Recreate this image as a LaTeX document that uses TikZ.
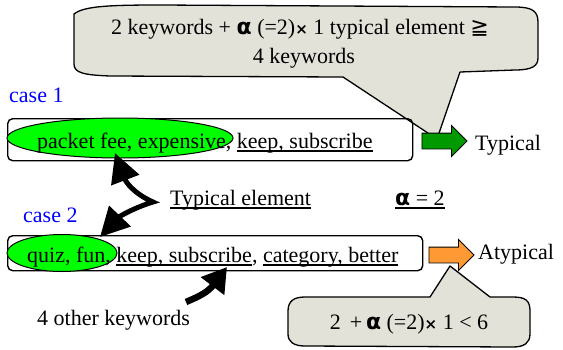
\documentclass[tikz,border=0pt]{standalone}
\usepackage{fontspec}
\setmainfont{Liberation Serif}
\newfontfamily\symfont{DejaVu Sans}
\usetikzlibrary{arrows.meta,shapes.geometric,shapes.arrows}
\definecolor{calloutfill}{RGB}{226,226,216}
\definecolor{kwgreen}{RGB}{0,255,0}
\definecolor{arrgreen}{RGB}{0,153,0}
\definecolor{arrorange}{RGB}{255,153,51}
\newcommand{\alsym}{{\symfont\bfseries α}}
\newcommand{\timessym}{{\symfont\bfseries\fontsize{15}{18}\selectfont ×}}
\newcommand{\geqqsym}{{\symfont ≧}}
% underline with a heavier rule
\newsavebox{\undlbox}
\newcommand{\undl}[1]{\leavevmode\sbox{\undlbox}{#1}%
  \rlap{\rule[-3.5pt]{\wd\undlbox}{1.5pt}}\usebox{\undlbox}}

\begin{document}
\begin{tikzpicture}[x=1pt,y=-1pt,
  every node/.style={font=\fontsize{22}{26}\selectfont, inner sep=0pt},
  kwbox/.style={draw, line width=1.4pt, rounded corners=5pt, anchor=north west},
  kwoval/.style={ellipse, draw, line width=1pt, fill=kwgreen},
  casetxt/.style={anchor=base west, text=blue},
  bigarrow/.style={single arrow, draw, line width=0.9pt, minimum height=45pt,
    minimum width=30pt, inner sep=7.5pt, single arrow head extend=7.5pt},
  callout/.style={draw, line width=1.3pt, fill=calloutfill, line join=round},
  bentarrow/.style={line width=5pt, line join=miter,
    {Triangle[length=29pt,width=29pt]}-{Triangle[length=29pt,width=29pt]}},
  pointarrow/.style={line width=6.5pt, -{Triangle[length=24pt,width=28pt]}}]
\useasboundingbox (0,0) rectangle (563,349);

% top callout
\draw[callout] (74,14) .. controls (84,6) and (110,5) .. (160,5)
  -- (515,7) .. controls (532,7) and (538,11) .. (538,22)
  -- (538,58) .. controls (538,66) and (532,70) .. (515,70)
  -- (460,72) -- (437,139) -- (343,77)
  -- (110,76) .. controls (84,75) and (74,73) .. (74,64) -- cycle;
\node[anchor=base] (top1) at (300,34)
  {2 keywords + \alsym\ (=2)\timessym\ 1 typical element \geqqsym};
\node[anchor=base] (top2) at (304,63) {4 keywords};

% case 1
\node[casetxt] (case1) at (9,102) {case 1};
\node[kwbox, minimum width=405pt, minimum height=42pt] (box1) at (7,118) {};
\node[kwoval, minimum width=226pt, minimum height=40pt] (oval1) at (120,138) {};
\node[anchor=base west] (kw1) at (37,148)
  {packet fee, expensive, \undl{keep, subscribe}};
\node[bigarrow, fill=arrgreen] (garrow) at (440.5,141) {};
\node[anchor=base west] (typ) at (475,150) {Typical};

% typical element label and alpha
\node[anchor=base west] (telem) at (170,205) {\undl{Typical element}};
\node[anchor=base west] (alpha) at (395,205) {\undl{\alsym\ = 2}};

% case 2
\node[casetxt] (case2) at (23,222) {case 2};
\node[kwbox, minimum width=415pt, minimum height=35pt] (box2) at (7,235) {};
\node[kwoval, minimum width=110pt, minimum height=37pt] (oval2) at (62,253) {};
\node[anchor=base west] (kw2) at (27,262)
  {quiz, fun, \undl{keep, subscribe}, \undl{category, better}};
\node[bigarrow, fill=arrorange] (oarrow) at (447.5,255) {};
\node[anchor=base west] (atyp) at (478,259) {Atypical};

% bent double arrow from the label to both ovals
\coordinate (tip1) at (115,153);
\coordinate (bend) at (153,202);
\coordinate (tip2) at (100,237);
\draw[bentarrow] (tip1) .. controls (126,182) and (133,193) .. (bend)
  .. controls (136,207) and (120,216) .. (tip2);

% other keywords
\node[anchor=base west] (other) at (37,325) {4 other keywords};
\coordinate (tail4) at (186,302);
\coordinate (tip4) at (227,267);
\draw[pointarrow] (tail4) .. controls (200,296) and (208,292) .. (tip4);

% bottom callout
\draw[callout] (288,311) .. controls (288,301) and (294,297) .. (305,297)
  -- (430,297) -- (450,266) -- (490,297)
  -- (513,297) .. controls (526,297) and (530,301) .. (530,311)
  -- (530,334) .. controls (530,343) and (524,347) .. (513,347)
  -- (305,346) .. controls (294,346) and (288,342) .. (288,334) -- cycle;
\node[anchor=base] (bot) at (409,329) {2 \,+\,\alsym\ (=2)\timessym\ 1 < 6};
\end{tikzpicture}
\end{document}
